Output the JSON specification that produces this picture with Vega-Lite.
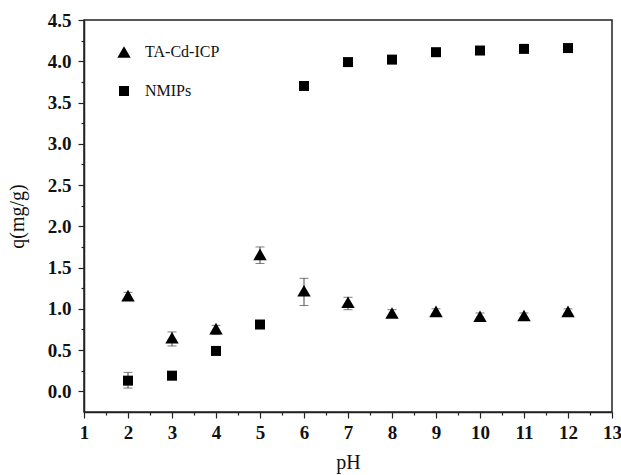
{
  "$schema": "https://vega.github.io/schema/vega-lite/v6.json",
  "width": 528,
  "height": 392,
  "autosize": "none",
  "padding": {"left": 84, "top": 20, "right": 9, "bottom": 63},
  "background": "white",
  "config": {
    "view": {"stroke": "#222", "strokeWidth": 1.5},
    "font": "Liberation Serif"
  },
  "data": {
    "values": [
      {"pH": 2, "q": 1.16, "lo": 1.11, "hi": 1.20, "series": "TA-Cd-ICP"},
      {"pH": 3, "q": 0.65, "lo": 0.55, "hi": 0.72, "series": "TA-Cd-ICP"},
      {"pH": 4, "q": 0.76, "lo": 0.69, "hi": 0.80, "series": "TA-Cd-ICP"},
      {"pH": 5, "q": 1.66, "lo": 1.55, "hi": 1.75, "series": "TA-Cd-ICP"},
      {"pH": 6, "q": 1.22, "lo": 1.04, "hi": 1.37, "series": "TA-Cd-ICP"},
      {"pH": 7, "q": 1.08, "lo": 0.99, "hi": 1.14, "series": "TA-Cd-ICP"},
      {"pH": 8, "q": 0.95, "lo": 0.91, "hi": 0.99, "series": "TA-Cd-ICP"},
      {"pH": 9, "q": 0.97, "lo": 0.94, "hi": 1.00, "series": "TA-Cd-ICP"},
      {"pH": 10, "q": 0.91, "lo": 0.87, "hi": 0.95, "series": "TA-Cd-ICP"},
      {"pH": 11, "q": 0.92, "lo": 0.89, "hi": 0.95, "series": "TA-Cd-ICP"},
      {"pH": 12, "q": 0.97, "lo": 0.94, "hi": 1.00, "series": "TA-Cd-ICP"},
      {"pH": 2, "q": 0.13, "lo": 0.04, "hi": 0.23, "series": "NMIPs"},
      {"pH": 3, "q": 0.19, "lo": 0.19, "hi": 0.19, "series": "NMIPs"},
      {"pH": 4, "q": 0.49, "lo": 0.49, "hi": 0.49, "series": "NMIPs"},
      {"pH": 5, "q": 0.81, "lo": 0.81, "hi": 0.81, "series": "NMIPs"},
      {"pH": 6, "q": 3.70, "lo": 3.70, "hi": 3.70, "series": "NMIPs"},
      {"pH": 7, "q": 3.99, "lo": 3.99, "hi": 3.99, "series": "NMIPs"},
      {"pH": 8, "q": 4.02, "lo": 4.02, "hi": 4.02, "series": "NMIPs"},
      {"pH": 9, "q": 4.11, "lo": 4.11, "hi": 4.11, "series": "NMIPs"},
      {"pH": 10, "q": 4.13, "lo": 4.13, "hi": 4.13, "series": "NMIPs"},
      {"pH": 11, "q": 4.15, "lo": 4.15, "hi": 4.15, "series": "NMIPs"},
      {"pH": 12, "q": 4.16, "lo": 4.16, "hi": 4.16, "series": "NMIPs"}
    ]
  },
  "encoding": {
    "x": {
      "field": "pH", "type": "quantitative",
      "scale": {"domain": [1, 13], "nice": false, "zero": false},
      "axis": {
        "title": "pH", "titleFontSize": 20, "titleFontWeight": "normal", "titleColor": "#111", "titlePadding": 10,
        "values": [1,1.5,2,2.5,3,3.5,4,4.5,5,5.5,6,6.5,7,7.5,8,8.5,9,9.5,10,10.5,11,11.5,12,12.5,13],
        "labelExpr": "datum.value % 1 == 0 ? format(datum.value, 'd') : ''",
        "labelFontSize": 19, "labelFontWeight": "bold", "labelColor": "#111", "labelPadding": 5,
        "labelOverlap": false, "labelBound": false, "labelFlush": false,
        "grid": false, "domainColor": "#222", "domainWidth": 1.5,
        "tickColor": "#222", "tickWidth": 1.2,
        "tickSize": {"condition": {"test": "datum.value % 1 != 0", "value": 3}, "value": 6}
      }
    },
    "y": {
      "field": "q", "type": "quantitative",
      "scale": {"domain": [-0.25, 4.5], "nice": false, "zero": false},
      "axis": {
        "title": "q(mg/g)", "titleFontSize": 20, "titleFontWeight": "normal", "titleColor": "#111", "titlePadding": 20,
        "values": [0,0.25,0.5,0.75,1,1.25,1.5,1.75,2,2.25,2.5,2.75,3,3.25,3.5,3.75,4,4.25,4.5],
        "labelExpr": "(datum.value * 2) % 1 == 0 ? format(datum.value, '.1f') : ''",
        "labelFontSize": 19, "labelFontWeight": "bold", "labelColor": "#111", "labelPadding": 7,
        "labelOverlap": false, "labelBound": false, "labelFlush": false,
        "grid": false, "domainColor": "#222", "domainWidth": 1.5,
        "tickColor": "#222", "tickWidth": 1.2,
        "tickSize": {"condition": {"test": "(datum.value * 2) % 1 != 0", "value": 3}, "value": 6}
      }
    }
  },
  "layer": [
    {
      "mark": {"type": "rule", "color": "#444", "strokeWidth": 1},
      "encoding": {"y": {"field": "lo", "type": "quantitative"}, "y2": {"field": "hi"}}
    },
    {
      "mark": {"type": "tick", "orient": "horizontal", "size": 9, "thickness": 1, "color": "#444"},
      "encoding": {"y": {"field": "lo", "type": "quantitative"}}
    },
    {
      "mark": {"type": "tick", "orient": "horizontal", "size": 9, "thickness": 1, "color": "#444"},
      "encoding": {"y": {"field": "hi", "type": "quantitative"}}
    },
    {
      "mark": {"type": "point", "filled": true, "opacity": 1, "color": "black"},
      "encoding": {
        "shape": {
          "field": "series", "type": "nominal",
          "scale": {"domain": ["TA-Cd-ICP", "NMIPs"], "range": ["triangle-up", "square"]},
          "legend": {
            "title": null, "orient": "none", "legendX": 32, "legendY": 24,
            "labelFontSize": 16, "labelColor": "#111", "labelFont": "Liberation Serif",
            "symbolFillColor": "black", "symbolStrokeColor": "black",
            "rowPadding": 22, "labelOffset": 13
          }
        },
        "size": {
          "field": "series", "type": "nominal",
          "scale": {"domain": ["TA-Cd-ICP", "NMIPs"], "range": [180, 100]},
          "legend": {
            "title": null, "orient": "none", "legendX": 32, "legendY": 24,
            "labelFontSize": 16, "labelColor": "#111", "labelFont": "Liberation Serif",
            "symbolFillColor": "black", "symbolStrokeColor": "black",
            "rowPadding": 22, "labelOffset": 13
          }
        }
      }
    }
  ]
}
